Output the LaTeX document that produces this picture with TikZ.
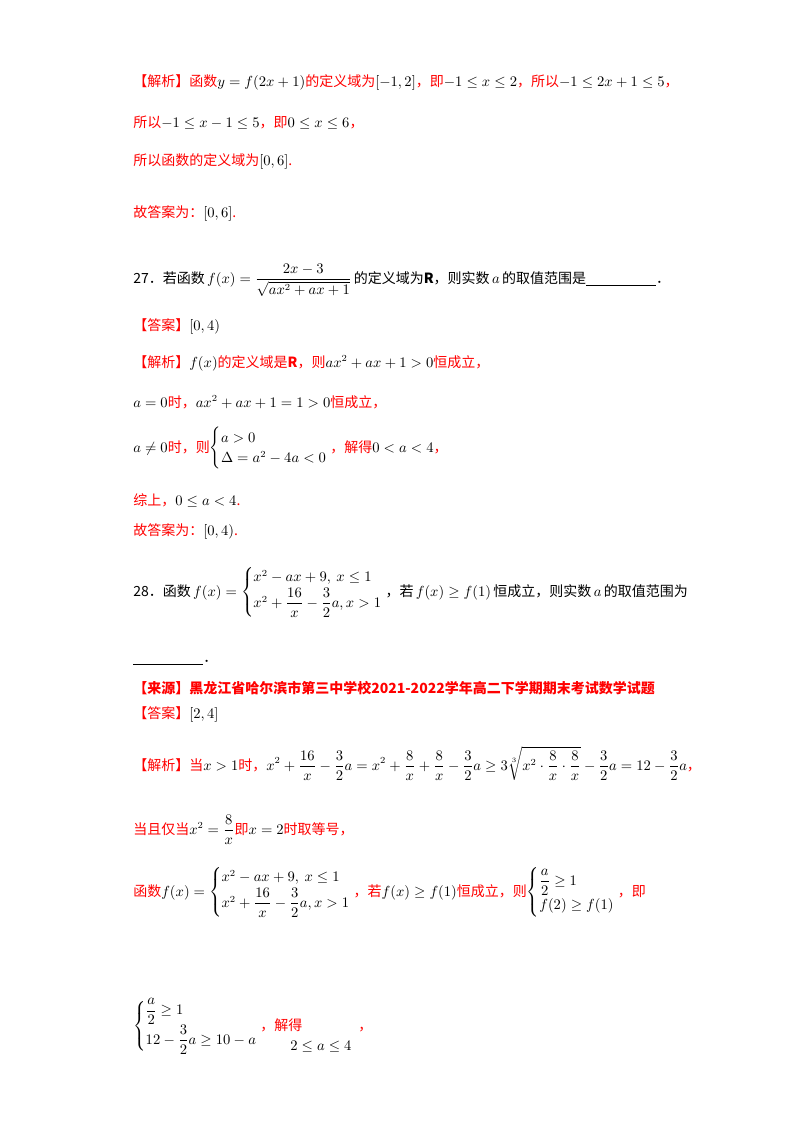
\documentclass[tikz,border=0pt]{standalone}
\usepackage{amsmath,amssymb}
\usepackage{fontspec}
\setmainfont{Noto Sans CJK SC}
\newcommand{\mm}[1]{{\color{black}$#1$}}
\begin{document}
\begin{tikzpicture}[x=0.75pt,y=-0.75pt,
  ln/.style={anchor=base west,inner sep=0pt,font=\fontsize{10.5}{13}\selectfont,text=red},
  lb/.style={ln,text=black}]
\useasboundingbox (0,0) rectangle (800,1132);
\fill[white] (0,0) rectangle (800,1132);
\node[ln] (l1) at (133,86) {【解析】函数\mm{y=f(2x+1)}的定义域为\mm{[-1,2]}，即\mm{-1\le x\le 2}，所以\mm{-1\le 2x+1\le 5}，};
\node[ln] (l2) at (133,127) {所以\mm{-1\le x-1\le 5}，即\mm{0\le x\le 6}，};
\node[ln] (l3) at (133,165) {所以函数的定义域为\mm{[0,6]}.};
\node[ln] (l4) at (133,217) {故答案为：\mm{[0,6]}.};
\node[lb] (l5) at (133,283) {27．若函数\,$f(x)=\dfrac{2x-3}{\sqrt{ax^2+ax+1}}$\,的定义域为\textbf{R}，则实数\,$a$\,的取值范围是\underline{\hspace{5em}}．};
\node[ln] (l6) at (133,330) {【答案】\mm{[0,4)}};
\node[ln] (l7) at (133,367) {【解析】\mm{f(x)}的定义域是\textbf{R}，则\mm{ax^2+ax+1>0}恒成立，};
\node[ln] (l8) at (133,407) {\mm{a=0}时，\mm{ax^2+ax+1=1>0}恒成立，};
\node[ln] (l9) at (133,452) {\mm{a\ne 0}时，则\mm{\begin{cases}a>0\\ \Delta=a^2-4a<0\end{cases}}\hspace{-0.8em}，解得\mm{0<a<4}，};
\node[ln] (l10) at (133,505) {综上，\mm{0\le a<4}.};
\node[ln] (l11) at (133,535) {故答案为：\mm{[0,4)}.};
\node[lb] (l12) at (133,596) {28．函数\,$f(x)=\begin{cases}x^2-ax+9,\ x\le 1\\ x^2+\dfrac{16}{x}-\dfrac{3}{2}a,x>1\end{cases}$\hspace{-0.8em}，若\,$f(x)\ge f(1)$\,恒成立，则实数\,$a$\,的取值范围为};
\node[lb] (l13) at (133,662) {\underline{\hspace{5em}}．};
\node[ln] (l14) at (133,693) {\textbf{【来源】黑龙江省哈尔滨市第三中学校2021-2022学年高二下学期期末考试数学试题}};
\node[ln] (l15) at (133,718) {【答案】\mm{[2,4]}};
\node[ln] (l16) at (133,770) {【解析】当\mm{x>1}时，\mm{\displaystyle x^2+\frac{16}{x}-\frac{3}{2}a=x^2+\frac{8}{x}+\frac{8}{x}-\frac{3}{2}a\ge 3\sqrt[3]{x^2\cdot\frac{8}{x}\cdot\frac{8}{x}}-\frac{3}{2}a=12-\frac{3}{2}a}，};
\node[ln] (l17) at (133,834) {当且仅当\mm{x^2=\dfrac{8}{x}}即\mm{x=2}时取等号，};
\node[ln] (l18) at (133,896) {函数\mm{f(x)=\begin{cases}x^2-ax+9,\ x\le 1\\ x^2+\dfrac{16}{x}-\dfrac{3}{2}a,x>1\end{cases}}\hspace{-0.8em}，若\mm{f(x)\ge f(1)}恒成立，则\mm{\begin{cases}\dfrac{a}{2}\ge 1\\ f(2)\ge f(1)\end{cases}}\hspace{-0.8em}，即};
\node[ln] (l19) at (133,1030) {\mm{\begin{cases}\dfrac{a}{2}\ge 1\\ 12-\dfrac{3}{2}a\ge 10-a\end{cases}}\hspace{-0.8em}，解得\hspace{4em}，};
\node[lb,anchor=base west] (l20) at (290,1050) {$2\le a\le 4$};
\end{tikzpicture}
\end{document}
